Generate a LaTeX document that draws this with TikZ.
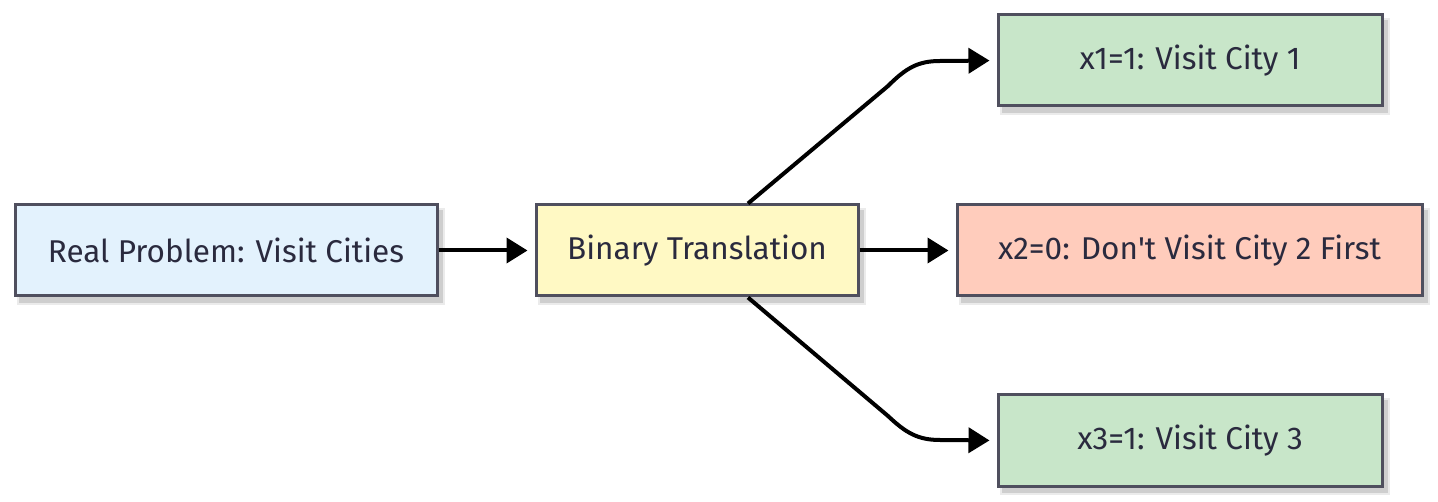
\documentclass[tikz,border=0pt]{standalone}
\usepackage{fontspec}
\setmainfont{Fira Sans}
\usetikzlibrary{calc,arrows.meta}
\definecolor{txt}{HTML}{2A2A3E}
\definecolor{bord}{HTML}{4F4F5E}
\definecolor{cblue}{HTML}{E3F2FD}
\definecolor{cyel}{HTML}{FFF9C4}
\definecolor{cgreen}{HTML}{C8E6C9}
\definecolor{csal}{HTML}{FFCCBC}
\tikzset{
  box/.style={draw=bord, line width=3pt, minimum height=91pt, inner sep=0pt,
    font=\fontsize{31.5}{38}\selectfont, text=txt},
  shad/.style={fill=black, fill opacity=0.12, draw=none},
  arr/.style={line width=4pt, -{Triangle[length=21pt,width=25pt]}, line join=round},
}
\begin{document}
\begin{tikzpicture}[x=1pt,y=-1pt]
\useasboundingbox (0,0) rectangle (1438,502);
% shadows
\foreach \a/\b/\c/\d in {15/205/437/296, 536/205/858/296, 998/15/1382/106, 957/205/1422/296, 998/395/1382/486}{
  \fill[shad] (\a+4,\b+5) rectangle (\c+6,\d+7);
  \fill[shad, fill opacity=0.08] (\a+2,\b+3) rectangle (\c+8,\d+9);
}
\node[box, fill=cblue, minimum width=422pt] (real) at (226,250.5) {Real Problem: Visit Cities};
\node[box, fill=cyel, minimum width=322pt] (bin) at (697,250.5) {Binary Translation};
\node[box, fill=cgreen, minimum width=384pt] (xa) at (1190,60.5) {x1=1: Visit City 1};
\node[box, fill=csal, minimum width=465pt] (xb) at (1189.5,250.5) {x2=0: Don\textquotesingle t Visit City 2 First};
\node[box, fill=cgreen, minimum width=384pt] (xc) at (1190,440.5) {x3=1: Visit City 3};
\coordinate (bt) at ($(bin.north)+(51,0)$);
\coordinate (bb) at ($(bin.south)+(51,0)$);
\draw[arr, shorten >=7pt] (real.east) -- (bin.west);
\draw[arr, shorten >=7pt] (bin.east) -- (xb.west);
\draw[arr, shorten >=7pt] (bt) -- (888,86) .. controls (906,68) and (918,61) .. (940,61) -- (xa.west);
\draw[arr, shorten >=7pt] (bb) -- (888,416) .. controls (906,433) and (918,440) .. (940,440) -- (xc.west);
\end{tikzpicture}
\end{document}
